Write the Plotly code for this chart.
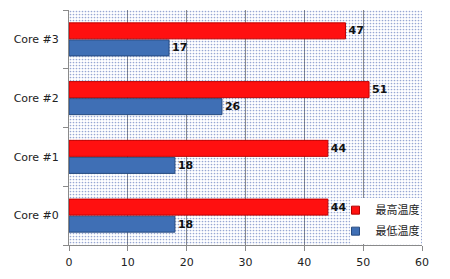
import plotly.graph_objects as go

categories = ["Core #0", "Core #1", "Core #2", "Core #3"]
max_temp = [44, 44, 51, 47]
min_temp = [18, 18, 26, 17]
series_names = ["最高温度", "最低温度"]
x_ticks = [0, 10, 20, 30, 40, 50, 60]

RED = "#ff1010"
BLUE = "#3f6fb5"

fig = go.Figure()

# dotted plot-area background on the hidden base axes
fig.add_trace(go.Bar(
    x=[0.5], y=[1], width=[1], xaxis="x", yaxis="y",
    marker=dict(color="rgba(0,0,0,0)", line=dict(width=0),
                pattern=dict(shape=".", size=3, solidity=0.25,
                             fgcolor="#3050a8", bgcolor="rgba(0,0,0,0)",
                             fillmode="overlay")),
    showlegend=False, hoverinfo="skip",
))

label_font = dict(family="DejaVu Sans", size=11, color="#111111", weight="bold")

fig.add_trace(go.Bar(
    y=categories, x=min_temp, name=series_names[1], orientation="h",
    xaxis="x2", yaxis="y2", showlegend=False,
    marker=dict(color=BLUE, line=dict(color="#274b80", width=1)),
    text=min_temp, textposition="outside", textfont=label_font,
    cliponaxis=False,
))
fig.add_trace(go.Bar(
    y=categories, x=max_temp, name=series_names[0], orientation="h",
    xaxis="x2", yaxis="y2", showlegend=False,
    marker=dict(color=RED, line=dict(color="#c00000", width=1)),
    text=max_temp, textposition="outside", textfont=label_font,
    cliponaxis=False,
))

# legend entries with small square symbols
for name, col, edge in [(series_names[0], RED, "#b00000"), (series_names[1], BLUE, "#274b80")]:
    fig.add_trace(go.Scatter(
        x=[None], y=[None], mode="markers", name=name, xaxis="x2", yaxis="y2",
        marker=dict(symbol="square", size=8, color=col, line=dict(color=edge, width=1)),
        legendgroup=name,
    ))

fig.update_layout(
    width=450, height=279,
    margin=dict(l=69, r=28, t=10, b=29),
    paper_bgcolor="white", plot_bgcolor="white",
    barmode="group", bargap=0.42, bargroupgap=0.06,
    font=dict(family="DejaVu Sans", size=11, color="#222222"),
    xaxis=dict(visible=False, range=[0, 1], fixedrange=True),
    yaxis=dict(visible=False, range=[0, 1], fixedrange=True),
    xaxis2=dict(overlaying="x", anchor="y2", range=[0, 60], tickvals=x_ticks,
                showgrid=True, gridcolor="#8a8a8a", gridwidth=1,
                showline=True, linecolor="#8a8a8a", ticks="outside",
                ticklen=5, tickcolor="#8a8a8a", zeroline=False,
                ticklabelstandoff=2),
    yaxis2=dict(overlaying="y", anchor="x2", type="category",
                categoryorder="array", categoryarray=categories,
                showline=True, linecolor="#8a8a8a", ticks="outside",
                tickson="boundaries", ticklen=5, tickcolor="#8a8a8a",
                showgrid=False, ticksuffix="  "),
    legend=dict(x=0.755, xanchor="left", y=0.21, yanchor="top",
                bgcolor="rgba(0,0,0,0)", borderwidth=0,
                font=dict(family="Noto Sans CJK JP", size=11, color="#222222"),
                itemwidth=30, tracegroupgap=2),
    showlegend=True,
    shapes=[dict(type="rect", xref="paper", yref="paper", layer="above",
                 x0=0.797, x1=0.997, y0=0.004, y1=0.2,
                 fillcolor="white", line=dict(width=0))],
)

fig.write_html("out.html")
